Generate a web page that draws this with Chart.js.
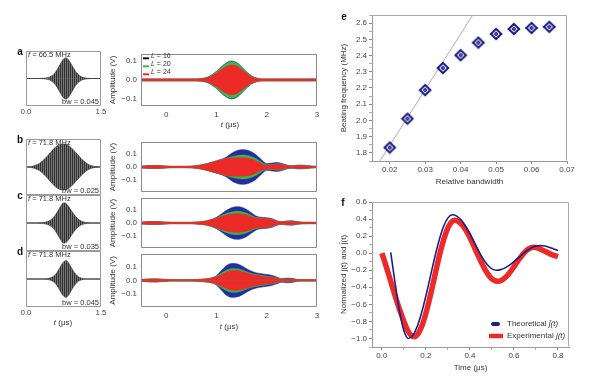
<!DOCTYPE html>
<html><head><meta charset="utf-8">
<script src="https://cdn.jsdelivr.net/npm/chart.js@4.4.1/dist/chart.umd.min.js"></script>
<style>
html,body{margin:0;padding:0;background:#fff;}
#fig{position:relative;width:600px;height:380px;overflow:hidden;background:#fff;}
canvas{position:absolute;}
.t{position:absolute;white-space:nowrap;line-height:1;z-index:5;font-family:'Liberation Sans Narrow','Liberation Sans',sans-serif;font-size:8px;color:#333;}
.c{transform:translate(-50%,-50%);}
.l{transform:translate(0,-50%);}
.r{transform:translate(-100%,-50%);}
.b{font-weight:bold;font-size:10px;color:#111;font-family:'Liberation Sans','DejaVu Sans',sans-serif;}
.s{font-size:7.5px;}
.s2{font-size:7px;}
</style></head>
<body><div id="fig">
<div class="t c b" style="left:20px;top:52px">a</div>
<div class="t c b" style="left:20px;top:140px">b</div>
<div class="t c b" style="left:20px;top:196px">c</div>
<div class="t c b" style="left:20px;top:252px">d</div>
<div class="t c b" style="left:344px;top:17px">e</div>
<div class="t c b" style="left:343px;top:203px">f</div>
<div class="t l s" style="left:28px;top:55px"><i>f</i> = 66.5 MHz</div>
<div class="t l s" style="left:28px;top:143px"><i>f</i> = 71.8 MHz</div>
<div class="t l s" style="left:28px;top:199px"><i>f</i> = 71.8 MHz</div>
<div class="t l s" style="left:28px;top:255px"><i>f</i> = 71.8 MHz</div>
<div class="t r s" style="left:99px;top:102px">bw = 0.045</div>
<div class="t r s" style="left:99px;top:191px">bw = 0.025</div>
<div class="t r s" style="left:99px;top:247px">bw = 0.035</div>
<div class="t r s" style="left:99px;top:303px">bw = 0.045</div>
<div class="t l s2" style="left:151px;top:55px"><i>L</i> = 16</div>
<div class="t l s2" style="left:151px;top:63px"><i>L</i> = 20</div>
<div class="t l s2" style="left:151px;top:71px"><i>L</i> = 24</div>
<div class="t c" style="left:230px;top:125px"><i>t</i> (μs)</div>
<div class="t c" style="left:229px;top:327px"><i>t</i> (μs)</div>
<div class="t c" style="left:63px;top:323px"><i>t</i> (μs)</div>
</div>
<script>
// ---------------- DATA ----------------
// left column: gray wave packets (envelope, relative units), t in μs
const LEFT_T = [0,0.05,0.1,0.15,0.2,0.25,0.3,0.35,0.4,0.45,0.5,0.55,0.6,0.65,0.7,0.75,0.8,0.85,0.9,0.95,1.0,1.05,1.1,1.15,1.2,1.25,1.3,1.35,1.4,1.45,1.5];
const LA_ENV = [0,0,0,0,0,0,.005,.01,.02,.04,.08,.15,.26,.41,.57,.71,.75,.68,.54,.38,.24,.14,.07,.035,.015,.007,0,0,0,0,0];
const LB_ENV = [0,.01,.02,.04,.07,.11,.17,.25,.34,.44,.54,.64,.72,.78,.81,.82,.81,.77,.70,.61,.51,.41,.31,.22,.15,.09,.05,.03,.015,.008,0];
const LC_ENV = [0,0,0,0,.003,.006,.012,.022,.04,.07,.12,.20,.32,.47,.62,.72,.70,.60,.46,.33,.22,.13,.075,.04,.02,.008,.003,0,0,0,0];
const LD_ENV = [0,0,0,0,0,0,0,.003,.008,.02,.05,.10,.19,.32,.48,.61,.66,.58,.43,.28,.16,.08,.035,.012,.004,0,0,0,0,0,0];
const LEFT_X_TICKS = [0, 1.5];

// right column: amplitude envelopes (V) for L = 16, 20, 24
const T_RIGHT = [-0.5,-0.4,-0.3,-0.2,-0.1,0.0,0.1,0.2,0.3,0.4,0.5,0.6,0.7,0.8,0.9,1.0,1.1,1.2,1.3,1.4,1.5,1.6,1.7,1.8,1.9,2.0,2.1,2.2,2.3,2.4,2.5,2.6,2.7,2.8,2.9,3.0];
const A_L16 = [.005,.005,.005,.005,.005,.005,.005,.005,.005,.005,.005,.005,.007,.013,.026,.046,.071,.092,.102,.094,.071,.044,.021,.010,.005,.005,.005,.005,.005,.005,.005,.005,.005,.005,.005,.005];
const A_L20 = [.005,.005,.005,.005,.005,.005,.005,.005,.005,.005,.005,.005,.007,.012,.024,.044,.069,.089,.098,.091,.069,.042,.020,.009,.005,.005,.005,.005,.005,.005,.005,.005,.005,.005,.005,.005];
const A_L24 = [.005,.005,.005,.005,.005,.005,.005,.005,.005,.005,.005,.005,.006,.010,.020,.036,.056,.072,.080,.074,.056,.034,.016,.008,.005,.005,.005,.005,.005,.005,.005,.005,.005,.005,.005,.005];
const B_L16 = [.007,.009,.011,.012,.010,.007,.005,.005,.005,.005,.006,.010,.016,.025,.036,.048,.060,.078,.106,.126,.134,.131,.117,.090,.054,.026,.030,.034,.028,.015,.009,.014,.015,.011,.007,.005];
const B_L20 = [.006,.008,.010,.011,.009,.006,.005,.005,.005,.005,.006,.010,.016,.024,.035,.047,.058,.068,.080,.088,.092,.090,.080,.062,.036,.018,.021,.025,.022,.012,.007,.010,.011,.009,.006,.005];
const B_L24 = [.006,.008,.010,.011,.009,.006,.005,.005,.005,.005,.006,.010,.016,.024,.034,.045,.056,.065,.070,.072,.072,.070,.062,.045,.024,.014,.018,.021,.018,.010,.006,.009,.010,.008,.005,.005];
const C_L16 = [.007,.009,.011,.011,.009,.007,.005,.005,.005,.005,.005,.007,.010,.016,.027,.044,.070,.098,.118,.126,.122,.105,.078,.052,.044,.041,.034,.018,.011,.016,.017,.011,.006,.005,.005,.005];
const C_L20 = [.006,.008,.010,.010,.008,.006,.005,.005,.005,.005,.005,.007,.010,.016,.026,.040,.058,.075,.086,.090,.087,.076,.058,.042,.039,.037,.029,.014,.009,.012,.013,.009,.006,.005,.005,.005];
const C_L24 = [.006,.008,.010,.010,.008,.006,.005,.005,.005,.005,.005,.007,.010,.016,.025,.036,.050,.062,.070,.072,.070,.062,.048,.037,.036,.034,.026,.013,.008,.011,.012,.008,.005,.005,.005,.005];
const D_L16 = [.007,.009,.011,.011,.009,.007,.005,.005,.005,.005,.005,.006,.008,.011,.018,.034,.072,.108,.124,.122,.108,.086,.067,.055,.049,.043,.037,.025,.013,.017,.015,.008,.005,.005,.005,.005];
const D_L20 = [.006,.008,.010,.010,.008,.006,.005,.005,.005,.005,.005,.006,.008,.011,.017,.030,.054,.075,.086,.086,.078,.063,.051,.043,.037,.031,.027,.019,.010,.012,.010,.006,.005,.005,.005,.005];
const D_L24 = [.006,.008,.010,.010,.008,.006,.005,.005,.005,.005,.005,.006,.008,.011,.016,.026,.042,.060,.071,.072,.066,.055,.044,.037,.031,.025,.022,.016,.008,.010,.008,.005,.005,.005,.005,.005];
const RIGHT_X_TICKS = [0, 1, 2, 3];
const AMP_TICKS = [-0.1, 0.0, 0.1];

// panel e
const E_BW = [0.020,0.025,0.030,0.035,0.040,0.045,0.050,0.055,0.060,0.065];
const E_FREQ = [1.833,2.011,2.187,2.323,2.402,2.480,2.533,2.564,2.570,2.577];
const E_BW_ERR = [0.0015,0.0015,0.0016,0.0016,0.0016,0.0017,0.0017,0.0017,0.0018,0.0018];
const E_FIT_BW = [0.0172, 0.0434];
const E_FIT_FREQ = [1.75, 2.65];
const E_X_TICKS = [0.02,0.03,0.04,0.05,0.06,0.07];
const E_Y_TICKS = [1.8,1.9,2.0,2.1,2.2,2.3,2.4,2.5,2.6];
const E_Y_MINOR = [1.75,1.85,1.95,2.05,2.15,2.25,2.35,2.45,2.55,2.65];

// panel f
const F_T_THEO = [0.04,0.06,0.08,0.10,0.12,0.14,0.16,0.18,0.20,0.22,0.24,0.26,0.28,0.30,0.32,0.34,0.36,0.38,0.40,0.42,0.44,0.46,0.48,0.50,0.52,0.54,0.56,0.58,0.60,0.62,0.64,0.66,0.68,0.70,0.72,0.74,0.76,0.78,0.80];
const F_Y_THEO = [0.01,-0.35,-0.68,-0.91,-1.00,-0.965,-0.862,-0.701,-0.499,-0.275,-0.051,0.151,0.312,0.414,0.45,0.434,0.388,0.316,0.225,0.125,0.025,-0.066,-0.139,-0.184,-0.20,-0.193,-0.172,-0.140,-0.100,-0.055,-0.010,0.030,0.063,0.083,0.09,0.085,0.07,0.05,0.03];
const F_T_EXP = [0.00,0.02,0.04,0.06,0.08,0.10,0.12,0.145,0.165,0.185,0.205,0.225,0.245,0.265,0.285,0.305,0.33,0.35,0.37,0.39,0.41,0.43,0.45,0.47,0.49,0.51,0.525,0.545,0.565,0.585,0.605,0.625,0.645,0.665,0.69,0.71,0.73,0.75,0.77,0.80];
const F_Y_EXP = [0.0,-0.16,-0.33,-0.50,-0.66,-0.80,-0.92,-0.98,-0.941,-0.829,-0.656,-0.442,-0.211,0.011,0.195,0.324,0.385,0.367,0.314,0.231,0.127,0.013,-0.099,-0.198,-0.275,-0.32,-0.33,-0.316,-0.275,-0.213,-0.14,-0.065,0.001,0.048,0.07,0.06,0.035,0.01,-0.015,-0.04];
const F_X_TICKS = [0,0.2,0.4,0.6,0.8];
const F_X_MINOR = [0.1,0.3,0.5,0.7];
const F_Y_TICKS = [-1.0,-0.8,-0.6,-0.4,-0.2,0.0,0.2,0.4,0.6];
const F_Y_MINOR = [-1.1,-0.9,-0.7,-0.5,-0.3,-0.1,0.1,0.3,0.5];

// ---------------- STYLE ----------------
const FONT = "'Liberation Sans Narrow','Liberation Sans',sans-serif";
Chart.defaults.font.family = FONT;
Chart.defaults.font.size = 8;
Chart.defaults.color = '#444';
const RED = '#ec2a27', GREEN = '#3cb54a', BLUE = '#1f2f9f', NAVY = '#1b1f8a';

const fmt = d => v => (v < -1e-9 ? '\u2212' : '') + Math.abs(v).toFixed(d);
const setTicks = (major, minor) => s => {
  const arr = major.map(v => ({value: v})).concat((minor || []).map(v => ({value: v, minor: true})));
  arr.sort((a, b) => a.value - b.value);
  s.ticks = arr;
};
const lblCb = f => (v, i, ticks) => (ticks[i] && ticks[i].minor) ? '' : f(v);

// plugins
const framePlugin = {id: 'frame', afterDraw(chart, args, o) {
  if (!o || !o.color) return;
  const a = chart.chartArea, c = chart.ctx;
  const L = Math.round(a.left) + 0.5, R = Math.round(a.right) - 0.5, T = Math.round(a.top) + 0.5, B = Math.round(a.bottom) - 0.5;
  c.save(); c.strokeStyle = o.color; c.lineWidth = 1; c.beginPath();
  if (o.sides === 'all') c.rect(L, T, R - L, B - T); else { c.moveTo(L, T); c.lineTo(R, T); c.lineTo(R, B); }
  c.stroke(); c.restore();
}};
const legendLines = {id: 'legendLines', afterDraw(chart, args, o) {
  if (!o || !o.items) return;
  const a = chart.chartArea, c = chart.ctx;
  c.save(); c.lineWidth = 2;
  o.items.forEach((col, i) => { c.strokeStyle = col; c.beginPath(); c.moveTo(a.left + 2, a.top + 4.5 + i * 8); c.lineTo(a.left + 8, a.top + 4.5 + i * 8); c.stroke(); });
  c.restore();
}};
Chart.register(framePlugin, legendLines);

const fig = document.getElementById('fig');
function mk(box, m, yW, xH, config) {
  const c = document.createElement('canvas');
  const w = box[2] - box[0] + m[0] + m[2], h = box[3] - box[1] + m[1] + m[3];
  c.width = w; c.height = h;
  c.style.left = (box[0] - m[0]) + 'px'; c.style.top = (box[1] - m[1]) + 'px';
  c.style.width = w + 'px'; c.style.height = h + 'px';
  fig.insertBefore(c, fig.firstChild);
  const o = config.options || {};
  o.responsive = false; o.animation = false; o.devicePixelRatio = 1; o.events = [];
  o.layout = {padding: {left: m[0] - yW, top: m[1], right: m[2], bottom: m[3] - xH}};
  o.plugins = Object.assign({legend: {display: false}, tooltip: {enabled: false}}, o.plugins || {});
  config.options = o;
  return new Chart(c, config);
}

// fine stripe pattern for dense oscillations
const PAT = document.createElement('canvas'); PAT.width = 2; PAT.height = 1;
(function(){ const g = PAT.getContext('2d'); g.fillStyle = '#303030'; g.fillRect(0,0,1,1); g.fillStyle = '#767676'; g.fillRect(1,0,1,1); })();
const patFill = ctx => ctx.chart.ctx.createPattern(PAT, 'repeat');

function leftPanel(box, env, showX) {
  const xH = showX ? 12 : 0;
  const m = [10, 6, 10, showX ? 14 : 6];
  const line = (sign) => ({data: LEFT_T.map((t, i) => ({x: t, y: sign * env[i]})), fill: 'origin', backgroundColor: patFill,
    borderColor: '#3a3a3a', borderWidth: 0.6, pointRadius: 0, cubicInterpolationMode: 'monotone'});
  return mk(box, m, 0, xH, {type: 'line', data: {datasets: [
    line(1), line(-1),
    {data: [{x: 0, y: 0}, {x: 1.5, y: 0}], borderColor: '#7a7a7a', borderWidth: 1, pointRadius: 0, fill: false}
  ]}, options: {scales: {
    x: {type: 'linear', min: 0, max: 1.5, display: showX, grid: {display: false, drawTicks: false}, border: {display: false},
        ticks: {padding: 1, autoSkip: false, maxRotation: 0, callback: lblCb(fmt(1))}, afterBuildTicks: setTicks(LEFT_X_TICKS),
        afterFit: s => { s.height = xH; }},
    y: {display: false, min: -1, max: 1}
  }, plugins: {frame: {color: '#9a9a9a', sides: 'all'}}}});
}

function rightPanel(box, A16, A20, A24, range, showX, legend) {
  const xH = showX ? 15 : 0, yW = 33;
  const m = [34, 6, 8, showX ? 16 : 6];
  const ds = [];
  [[A24, RED, 0], [A20, GREEN, 1], [A16, BLUE, 2]].forEach(([arr, col, ord]) => {
    [1, -1].forEach(sign => ds.push({data: T_RIGHT.map((t, i) => ({x: t, y: sign * arr[i]})), fill: 'origin',
      backgroundColor: col, borderColor: col, borderWidth: 0.6, pointRadius: 0, cubicInterpolationMode: 'monotone', order: ord}));
  });
  return mk(box, m, yW, xH, {type: 'line', data: {datasets: ds}, options: {scales: {
    x: {type: 'linear', min: -0.5, max: 3, display: showX, grid: {display: false, drawTicks: false}, border: {display: false},
        ticks: {padding: 4, autoSkip: false, maxRotation: 0, callback: lblCb(fmt(0))}, afterBuildTicks: setTicks(RIGHT_X_TICKS),
        afterFit: s => { s.height = xH; }},
    y: {min: -range, max: range, grid: {display: false, drawTicks: false}, border: {display: false},
        ticks: {padding: 4, autoSkip: false, callback: lblCb(fmt(1))}, afterBuildTicks: setTicks(AMP_TICKS),
        title: {display: true, text: 'Amplitude (V)', padding: 0, color: '#333', font: {size: 8}},
        afterFit: s => { s.width = yW; }}
  }, plugins: {frame: {color: '#8c8c8c', sides: 'all'}, legendLines: legend ? {items: ['#111', GREEN, RED]} : {}}}});
}

// left column
leftPanel([26, 51, 101, 106], LA_ENV, true);
leftPanel([26, 139, 101, 195], LB_ENV, false);
leftPanel([26, 195, 101, 251], LC_ENV, false);
leftPanel([26, 251, 101, 307], LD_ENV, true);
// right column
rightPanel([141, 51, 317, 106], A_L16, A_L20, A_L24, 0.14, true, true);
rightPanel([141, 139, 317, 195], B_L16, B_L20, B_L24, 0.195, false, false);
rightPanel([141, 195, 317, 251], C_L16, C_L20, C_L24, 0.195, false, false);
rightPanel([141, 251, 317, 307], D_L16, D_L20, D_L24, 0.195, true, false);

// panel e
function diamondImg() {
  const c = document.createElement('canvas'); c.width = 14; c.height = 14;
  const g = c.getContext('2d');
  const d = (r, col) => { g.beginPath(); g.moveTo(7, 7 - r); g.lineTo(7 + r, 7); g.lineTo(7, 7 + r); g.lineTo(7 - r, 7); g.closePath(); g.fillStyle = col; g.fill(); };
  d(6.6, '#14147e'); d(3.8, '#ffffff'); d(2.4, '#14147e'); d(0.8, '#b8c0ff');
  return c;
}
const errPlugin = {id: 'errbars', beforeDatasetsDraw(chart) {
  const xs = chart.scales.x, ys = chart.scales.y, c = chart.ctx;
  c.save(); c.strokeStyle = '#6a78d8'; c.lineWidth = 2;
  E_BW.forEach((b, i) => { const y = ys.getPixelForValue(E_FREQ[i]); c.beginPath();
    c.moveTo(xs.getPixelForValue(b - E_BW_ERR[i]), y); c.lineTo(xs.getPixelForValue(b + E_BW_ERR[i]), y); c.stroke(); });
  c.restore();
}};
const axisGrid = {display: true, drawOnChartArea: false, drawTicks: true, tickLength: 3, color: c => (c.tick && c.tick.minor) ? '#b0b0b0' : '#8a8a8a'};
mk([372, 15, 567, 161], [40, 8, 12, 30], 33.4, 25.4, {type: 'scatter', data: {datasets: [
  {data: E_BW.map((b, i) => ({x: b, y: E_FREQ[i]})), pointStyle: diamondImg(), pointRadius: 6, order: 0},
  {type: 'line', data: E_FIT_BW.map((b, i) => ({x: b, y: E_FIT_FREQ[i]})), showLine: true, borderColor: '#999999', borderWidth: 0.8, pointRadius: 0, fill: false, order: 1}
]}, options: {scales: {
  x: {type: 'linear', min: 0.015, max: 0.07, grid: axisGrid, border: {display: true, color: '#999'},
      ticks: {padding: 1, autoSkip: false, maxRotation: 0, callback: lblCb(fmt(2))}, afterBuildTicks: setTicks(E_X_TICKS),
      title: {display: true, text: 'Relative bandwidth', padding: 0, color: '#333', font: {size: 8}},
      afterFit: s => { s.height = 25.4; }},
  y: {min: 1.75, max: 2.65, grid: axisGrid, border: {display: true, color: '#999'},
      ticks: {padding: 2, autoSkip: false, callback: lblCb(fmt(1))}, afterBuildTicks: setTicks(E_Y_TICKS, E_Y_MINOR),
      title: {display: true, text: 'Beating frequency (MHz)', padding: 0, color: '#333', font: {size: 8}},
      afterFit: s => { s.width = 33.4; }}
}, plugins: {frame: {color: '#aaaaaa', sides: 'tr'}}}, plugins: [errPlugin]});

// panel f
const fLegend = {id: 'fLegend', afterDraw(chart) {
  const a = chart.chartArea, c = chart.ctx;
  c.save();
  c.lineCap = 'round'; c.strokeStyle = NAVY; c.lineWidth = 4;
  c.beginPath(); c.moveTo(a.right - 76, a.bottom - 23); c.lineTo(a.right - 71, a.bottom - 23); c.stroke();
  c.lineCap = 'butt'; c.strokeStyle = RED; c.lineWidth = 4.5;
  c.beginPath(); c.moveTo(a.right - 80, a.bottom - 11); c.lineTo(a.right - 66, a.bottom - 11); c.stroke();
  c.fillStyle = '#333'; c.textBaseline = 'middle';
  const seg = (parts, x, y) => { parts.forEach(([txt, it]) => { c.font = (it ? 'italic ' : '') + '8px ' + FONT; c.fillText(txt, x, y); x += c.measureText(txt).width; }); };
  seg([['Theoretical ', false], ['j\u0304(t)', true]], a.right - 62, a.bottom - 23);
  seg([['Experimental ', false], ['j(t)', true]], a.right - 62, a.bottom - 11);
  c.restore();
}};
mk([372, 202, 569, 347], [40, 8, 12, 30], 33.4, 25.4, {type: 'line', data: {datasets: [
  {data: F_T_THEO.map((t, i) => ({x: t, y: F_Y_THEO[i]})), borderColor: NAVY, borderWidth: 1.6, pointRadius: 0, fill: false, cubicInterpolationMode: 'monotone', order: 0},
  {data: F_T_EXP.map((t, i) => ({x: t, y: F_Y_EXP[i]})), borderColor: RED, borderWidth: 5.5, pointRadius: 0, fill: false, cubicInterpolationMode: 'monotone', order: 1}
]}, options: {scales: {
  x: {type: 'linear', min: -0.045, max: 0.85, grid: axisGrid, border: {display: true, color: '#999'},
      ticks: {padding: 1, autoSkip: false, maxRotation: 0, callback: lblCb(fmt(1))}, afterBuildTicks: setTicks(F_X_TICKS, F_X_MINOR),
      title: {display: true, text: 'Time (μs)', padding: 0, color: '#333', font: {size: 8}},
      afterFit: s => { s.height = 25.4; }},
  y: {min: -1.1, max: 0.6, grid: axisGrid, border: {display: true, color: '#999'},
      ticks: {padding: 2, autoSkip: false, callback: lblCb(fmt(1))}, afterBuildTicks: setTicks(F_Y_TICKS, F_Y_MINOR),
      title: {display: true, text: 'Normalized j(t) and j\u0304(t)', padding: 0, color: '#333', font: {size: 8}},
      afterFit: s => { s.width = 33.4; }}
}, plugins: {frame: {color: '#aaaaaa', sides: 'tr'}}}, plugins: [fLegend]});
</script>
</body></html>
